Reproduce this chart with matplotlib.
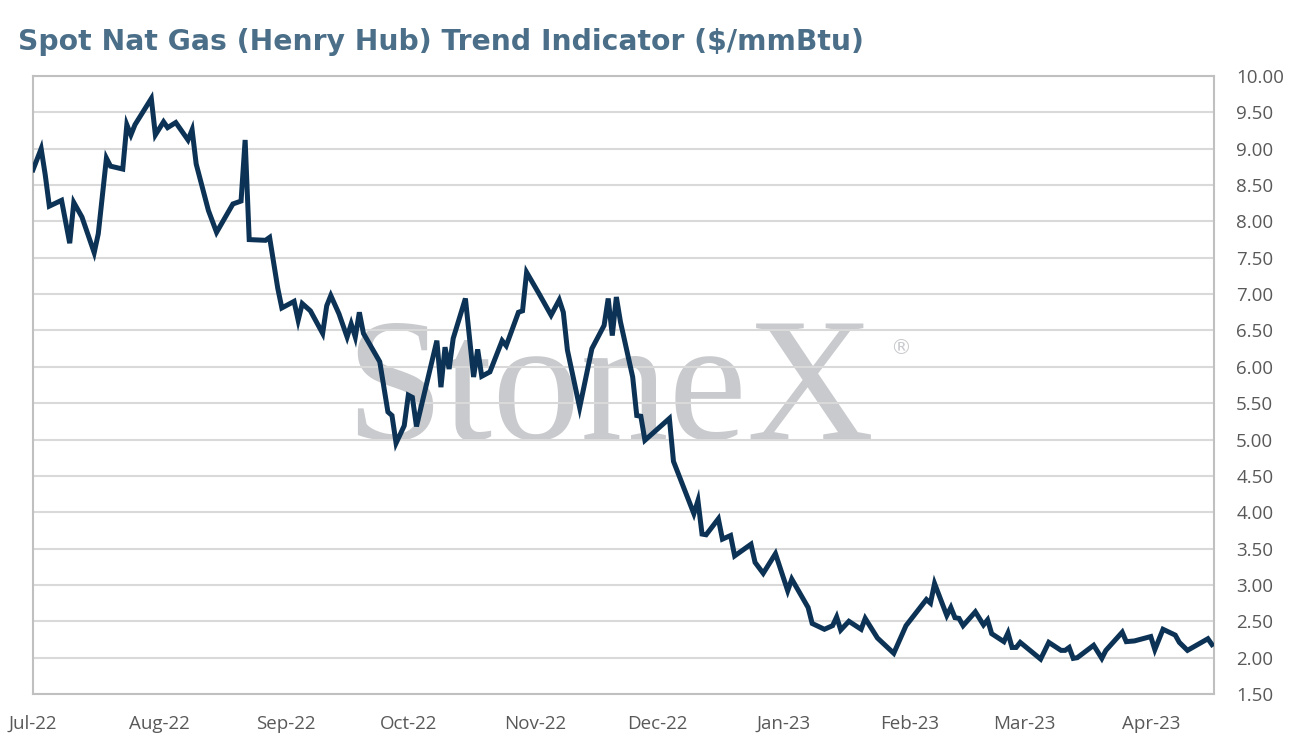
import numpy as np
import pandas as pd
import matplotlib
matplotlib.use("Agg")
import matplotlib.pyplot as plt
import matplotlib.dates as mdates

# dates des sommets de la courbe
dates = [
    "2022-07-01", "2022-07-03", "2022-07-04", "2022-07-05", "2022-07-08", "2022-07-10",
    "2022-07-11", "2022-07-13", "2022-07-16", "2022-07-17", "2022-07-19", "2022-07-20",
    "2022-07-23", "2022-07-24", "2022-07-25", "2022-07-26", "2022-07-30", "2022-07-31",
    "2022-08-02", "2022-08-03", "2022-08-05", "2022-08-08", "2022-08-09", "2022-08-10",
    "2022-08-13", "2022-08-15", "2022-08-19", "2022-08-21", "2022-08-22", "2022-08-23",
    "2022-08-27", "2022-08-28", "2022-08-30", "2022-08-31",
    "2022-09-03", "2022-09-04", "2022-09-05", "2022-09-07", "2022-09-10", "2022-09-11",
    "2022-09-12", "2022-09-14", "2022-09-16", "2022-09-17", "2022-09-18", "2022-09-19",
    "2022-09-20", "2022-09-24", "2022-09-26", "2022-09-27", "2022-09-28", "2022-09-30",
    "2022-10-01", "2022-10-02", "2022-10-03", "2022-10-08", "2022-10-09", "2022-10-10",
    "2022-10-11", "2022-10-12", "2022-10-15", "2022-10-17", "2022-10-18", "2022-10-19",
    "2022-10-21", "2022-10-24", "2022-10-25", "2022-10-28", "2022-10-29", "2022-10-30",
    "2022-11-02", "2022-11-05", "2022-11-07", "2022-11-08", "2022-11-09", "2022-11-12",
    "2022-11-15", "2022-11-18", "2022-11-19", "2022-11-20", "2022-11-21", "2022-11-22",
    "2022-11-25", "2022-11-26", "2022-11-27", "2022-11-28",
    "2022-12-04", "2022-12-05", "2022-12-10", "2022-12-11", "2022-12-12", "2022-12-13",
    "2022-12-16", "2022-12-17", "2022-12-19", "2022-12-20", "2022-12-24", "2022-12-25",
    "2022-12-27", "2022-12-30",
    "2023-01-02", "2023-01-03", "2023-01-07", "2023-01-08", "2023-01-11", "2023-01-13",
    "2023-01-14", "2023-01-15", "2023-01-17", "2023-01-20", "2023-01-21", "2023-01-24",
    "2023-01-28", "2023-01-31",
    "2023-02-05", "2023-02-06", "2023-02-07", "2023-02-10", "2023-02-11", "2023-02-12",
    "2023-02-13", "2023-02-14", "2023-02-17", "2023-02-19", "2023-02-20", "2023-02-21",
    "2023-02-24", "2023-02-25", "2023-02-26", "2023-02-27", "2023-02-28",
    "2023-03-05", "2023-03-07", "2023-03-10", "2023-03-11", "2023-03-12", "2023-03-13",
    "2023-03-14", "2023-03-18", "2023-03-20", "2023-03-21", "2023-03-25", "2023-03-26",
    "2023-03-28",
    "2023-04-01", "2023-04-02", "2023-04-04", "2023-04-07", "2023-04-08", "2023-04-10",
    "2023-04-15", "2023-04-16",
]

# prix spot ($/mmBtu)
prix = [
    8.71, 9.00, 8.64, 8.21, 8.29, 7.70,
    8.26, 8.06, 7.57, 7.83, 8.87, 8.76,
    8.72, 9.33, 9.19, 9.33, 9.69, 9.19,
    9.37, 9.29, 9.36, 9.12, 9.26, 8.79,
    8.15, 7.85, 8.24, 8.28, 9.12, 7.75,
    7.74, 7.78, 7.08, 6.81,
    6.90, 6.64, 6.87, 6.77, 6.46, 6.84,
    6.98, 6.73, 6.41, 6.59, 6.41, 6.75,
    6.46, 6.07, 5.38, 5.33, 4.95, 5.19,
    5.61, 5.58, 5.18, 6.36, 5.72, 6.27,
    5.97, 6.39, 6.94, 5.86, 6.24, 5.87,
    5.93, 6.36, 6.29, 6.75, 6.77, 7.30,
    7.01, 6.71, 6.92, 6.75, 6.23, 5.44,
    6.25, 6.57, 6.94, 6.43, 6.96, 6.62,
    5.86, 5.33, 5.32, 4.99,
    5.29, 4.70, 3.98, 4.16, 3.70, 3.69,
    3.91, 3.63, 3.68, 3.40, 3.56, 3.31,
    3.16, 3.43,
    2.92, 3.08, 2.69, 2.47, 2.39, 2.44,
    2.56, 2.38, 2.50, 2.39, 2.54, 2.27,
    2.06, 2.44,
    2.80, 2.75, 3.02, 2.58, 2.69, 2.55,
    2.54, 2.44, 2.63, 2.45, 2.52, 2.33,
    2.22, 2.34, 2.14, 2.14, 2.21,
    1.98, 2.21, 2.10, 2.10, 2.14, 1.99,
    2.00, 2.17, 1.99, 2.10, 2.35, 2.22,
    2.23,
    2.29, 2.11, 2.39, 2.31, 2.21, 2.10,
    2.26, 2.18,
]

yticks = np.arange(1.5, 10.01, 0.5)

titre = "Spot Nat Gas (Henry Hub) Trend Indicator ($/mmBtu)"

x = pd.to_datetime(dates)

fig = plt.figure(figsize=(12.92, 7.54), dpi=100)
ax = fig.add_axes([33/1292, 1-694/754, (1214-33)/1292, (694-76)/754])

# filigrane
ax.text(0.488, 0.412, "StoneX", transform=ax.transAxes, fontsize=127,
        family="Liberation Serif", color="#c9cacd", ha="center", va="baseline", zorder=1)
ax.text(0.735, 0.56, "®", transform=ax.transAxes, fontsize=15,
        family="DejaVu Sans", color="#c9cacd", ha="center", va="center", zorder=1)

ax.plot(x, prix, color="#0c3355", lw=3.6, solid_joinstyle="miter", zorder=3)

ax.set_ylim(1.5, 10.0)
ax.set_yticks(yticks)
ax.set_yticklabels([f"{v:.2f}" for v in yticks])
ax.yaxis.tick_right()
ax.set_xlim(pd.Timestamp("2022-07-01"), pd.Timestamp("2023-04-16 12:00"))
ax.xaxis.set_major_locator(mdates.MonthLocator())
ax.xaxis.set_major_formatter(mdates.DateFormatter("%b-%y"))

ax.grid(axis="y", color="#d9d9d9", lw=1.5, zorder=0)
for s in ax.spines.values():
    s.set_color("#c0c0c0")
    s.set_linewidth(1.5)

ax.tick_params(axis="both", length=0, labelsize=13.5, labelcolor="#595959")
ax.tick_params(axis="y", pad=16)
ax.tick_params(axis="x", pad=15)
for lab in ax.get_xticklabels() + ax.get_yticklabels():
    lab.set_family("Open Sans")

fig.text(18/1292, 1-42/754, titre, fontsize=20.3, fontweight="bold", family="DejaVu Sans",
         color="#4b6f89", ha="left", va="center")

fig.savefig("out.png", dpi=100)
